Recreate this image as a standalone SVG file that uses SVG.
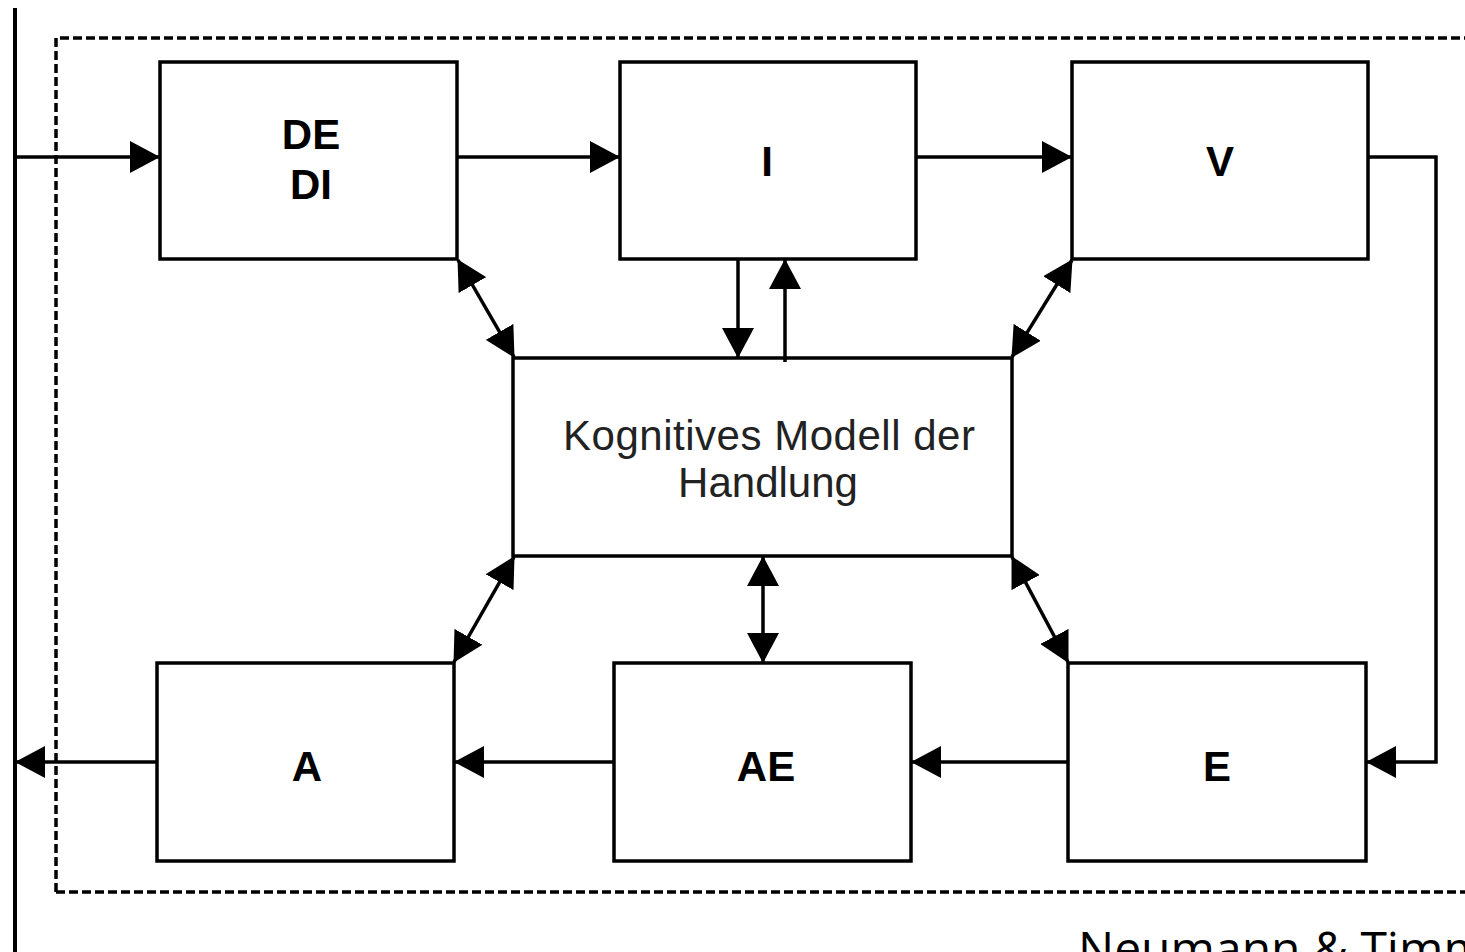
<svg xmlns="http://www.w3.org/2000/svg" width="1465" height="952" viewBox="0 0 1465 952">
<defs>
<style>
.box{fill:none;stroke:#000;stroke-width:3.5}
.ln{fill:none;stroke:#000;stroke-width:3.5}
.lbl{font-family:"Liberation Sans",Arial,sans-serif;font-weight:bold;font-size:42px;fill:#000;text-anchor:middle}
.ctr{font-family:"Liberation Sans",Arial,sans-serif;font-size:42px;fill:#222;text-anchor:middle}
</style>
<marker id="ah" markerUnits="userSpaceOnUse" markerWidth="30" markerHeight="32" refX="29" refY="16" orient="auto-start-reverse" viewBox="0 0 30 32">
<path d="M0,0 L30,16 L0,32 Z" fill="#000"/>
</marker>
</defs>
<rect width="1465" height="952" fill="#fff"/>
<line x1="15" y1="8" x2="15" y2="952" stroke="#000" stroke-width="4"/>
<path d="M56,892 V38 H1470 M56,892 H1470" fill="none" stroke="#000" stroke-width="3.5" stroke-dasharray="9,4"/>
<g id="connectors">
<line class="ln" x1="15" y1="157" x2="159" y2="157" marker-end="url(#ah)"/>
<line class="ln" x1="457" y1="157" x2="619" y2="157" marker-end="url(#ah)"/>
<line class="ln" x1="916" y1="157" x2="1071" y2="157" marker-end="url(#ah)"/>
<polyline class="ln" points="1368,157 1436,157 1436,762 1367,762" marker-end="url(#ah)"/>
<line class="ln" x1="1068" y1="762" x2="912" y2="762" marker-end="url(#ah)"/>
<line class="ln" x1="614" y1="762" x2="455" y2="762" marker-end="url(#ah)"/>
<line class="ln" x1="157" y1="762" x2="16" y2="762" marker-end="url(#ah)"/>
<line class="ln" x1="458" y1="260" x2="514" y2="357" marker-start="url(#ah)" marker-end="url(#ah)"/>
<line class="ln" x1="738" y1="260" x2="738" y2="357" marker-end="url(#ah)"/>
<line class="ln" x1="785" y1="362" x2="785" y2="260" marker-end="url(#ah)"/>
<line class="ln" x1="1072" y1="260" x2="1012" y2="357" marker-start="url(#ah)" marker-end="url(#ah)"/>
<line class="ln" x1="514" y1="557" x2="454" y2="662" marker-start="url(#ah)" marker-end="url(#ah)"/>
<line class="ln" x1="763" y1="557" x2="763" y2="662" marker-start="url(#ah)" marker-end="url(#ah)"/>
<line class="ln" x1="1012" y1="557" x2="1068" y2="662" marker-start="url(#ah)" marker-end="url(#ah)"/>
</g>
<g id="DE">
<rect class="box" x="160" y="62" width="297" height="197"/>
<text class="lbl" x="311" y="149">DE</text>
<text class="lbl" x="311" y="199">DI</text>
</g>
<g id="I">
<rect class="box" x="620" y="62" width="296" height="197"/>
<text class="lbl" x="767" y="176">I</text>
</g>
<g id="V">
<rect class="box" x="1072" y="62" width="296" height="197"/>
<text class="lbl" x="1220" y="176">V</text>
</g>
<g id="K">
<rect class="box" x="513" y="358" width="499" height="198"/>
<text class="ctr" x="769" y="450" textLength="412">Kognitives Modell der</text>
<text class="ctr" x="768" y="497">Handlung</text>
</g>
<g id="A">
<rect class="box" x="157" y="663" width="297" height="198"/>
<text class="lbl" x="307" y="781">A</text>
</g>
<g id="AE">
<rect class="box" x="614" y="663" width="297" height="198"/>
<text class="lbl" x="766" y="781">AE</text>
</g>
<g id="E">
<rect class="box" x="1068" y="663" width="298" height="198"/>
<text class="lbl" x="1217" y="781">E</text>
</g>
<text x="1078" y="966" font-family="'Open Sans',sans-serif" font-size="48" fill="#000">Neumann &amp; Timm</text>
</svg>
